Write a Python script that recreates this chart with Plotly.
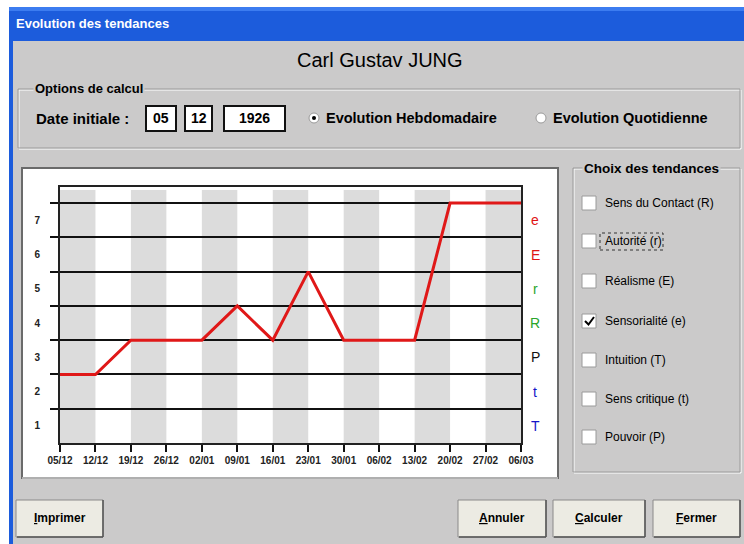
import plotly.graph_objects as go

# ---------------- data ----------------
DATES = ["05/12", "12/12", "19/12", "26/12", "02/01", "09/01", "16/01",
         "23/01", "30/01", "06/02", "13/02", "20/02", "27/02", "06/03"]
SENSORIALITE = [2.5, 2.5, 3.5, 3.5, 3.5, 4.5, 3.5, 5.5, 3.5, 3.5, 3.5, 7.5, 7.5, 7.5]
LEVEL_TICKS = [1, 2, 3, 4, 5, 6, 7]
LEVEL_LABELS = ["1", "2", "3", "4", "5", "6", "7"]
GRID_LEVELS = [1.5, 2.5, 3.5, 4.5, 5.5, 6.5, 7.5]
TREND_LETTERS = ["T", "t", "P", "R", "r", "E", "e"]
TREND_COLORS = ["#1414c8", "#1414c8", "#111111", "#2aa52a", "#2aa52a", "#e01414", "#e01414"]
CHOICES = ["Sens du Contact (R)", "Autorité (r)", "Réalisme (E)", "Sensorialité (e)",
           "Intuition (T)", "Sens critique (t)", "Pouvoir (P)"]
CHECKED = [False, False, False, True, False, False, False]
BUTTONS = ["Imprimer", "Annuler", "Calculer", "Fermer"]
DATE_FIELDS = ["05", "12", "1926"]

# ---------------- helpers ----------------
W, H = 744, 544
BG = "#cbcaca"
BOLDF = "Liberation Sans, Arial, sans-serif"
SANS = "Liberation Sans, Arial, sans-serif"


def X(p):
    return p / W


def Y(p):
    return 1 - p / H


shapes = []
annotations = []


def rect(x0, y0, x1, y1, fill="rgba(0,0,0,0)", line="rgba(0,0,0,0)", lw=0, dash="solid"):
    shapes.append(dict(type="rect", xref="paper", yref="paper",
                       x0=X(x0), x1=X(x1), y0=Y(y1), y1=Y(y0),
                       fillcolor=fill, line=dict(color=line, width=lw, dash=dash),
                       layer="below"))


def hline(x0, x1, y, color, lw=1):
    shapes.append(dict(type="line", xref="paper", yref="paper",
                       x0=X(x0), x1=X(x1), y0=Y(y), y1=Y(y),
                       line=dict(color=color, width=lw), layer="below"))


def vline(x, y0, y1, color, lw=1):
    shapes.append(dict(type="line", xref="paper", yref="paper",
                       x0=X(x), x1=X(x), y0=Y(y0), y1=Y(y1),
                       line=dict(color=color, width=lw), layer="below"))


def text(x, y, s, size=12, color="#000", family=BOLDF, weight="bold",
         xanchor="left", bgcolor=None):
    a = dict(xref="paper", yref="paper", x=X(x), y=Y(y), text=s, showarrow=False,
             xanchor=xanchor, yanchor="middle",
             font=dict(size=size, color=color, family=family, weight=weight))
    if bgcolor:
        a["bgcolor"] = bgcolor
    annotations.append(a)


def groupbox(x0, y0, x1, y1):
    rect(x0 + 1, y0 + 1, x1 + 1, y1 + 1, line="#ffffff", lw=1)
    rect(x0, y0, x1, y1, line="#9a9a9a", lw=1)


# ---------------- window chrome ----------------
rect(9, 7, 744, 544, fill="#1c5cdc")
rect(9, 7, 744, 11, fill="#3c7cf0")
rect(13, 41, 744, 544, fill=BG)
text(14, 24, "Evolution des tendances", size=13, color="#ffffff")

text(380, 60, "Carl Gustav JUNG", size=20, family=SANS, weight="normal", xanchor="center")

# options group
groupbox(18, 89, 740, 148)
text(33, 89, "Options de calcul", size=13, bgcolor=BG)
text(34, 118, "Date initiale :", size=15)
for (x0, x1), s in zip([(146, 176), (185, 212), (224, 285)], DATE_FIELDS):
    rect(x0, 106, x1, 131, fill="#ffffff", line="#111111", lw=2)
    text((x0 + x1) / 2, 118.5, s, size=14, xanchor="center")

for cx, label, sel in [(314, "Evolution Hebdomadaire", True), (541, "Evolution Quotidienne", False)]:
    shapes.append(dict(type="circle", xref="paper", yref="paper",
                       x0=X(cx - 5), x1=X(cx + 5), y0=Y(118 + 5), y1=Y(118 - 5),
                       fillcolor="#ffffff", line=dict(color="#9a9a9a", width=1), layer="below"))
    if sel:
        shapes.append(dict(type="circle", xref="paper", yref="paper",
                           x0=X(cx - 2), x1=X(cx + 2), y0=Y(118 + 2), y1=Y(118 - 2),
                           fillcolor="#000000", line=dict(width=0), layer="below"))
    text(cx + 10, 118, label, size=14.5)

# chart panel
rect(22, 168, 558, 478, fill="#ffffff", line="#6a6a6a", lw=2)
hline(22, 558, 478, "#f4f4f4", 1)

# choix group
groupbox(573, 168, 740, 472)
text(582, 168, "Choix des tendances", size=13.5, bgcolor=BG)
ROWS = [203, 241, 281, 321, 360, 399, 437]
for yy, label, chk in zip(ROWS, CHOICES, CHECKED):
    rect(582, yy - 7, 596, yy + 7, fill="#ffffff", line="#9a9a9a", lw=1)
    if chk:
        shapes.append(dict(type="path", xref="paper", yref="paper",
                           path=f"M {X(585)} {Y(yy)} L {X(588.5)} {Y(yy + 3.5)} L {X(594)} {Y(yy - 4)}",
                           line=dict(color="#000", width=2), layer="below"))
    text(603, yy, label, size=12, weight="normal")
rect(600, 233, 663, 250, line="#333333", lw=1, dash="dot")

# buttons
for (x0, x1), label in zip([(16, 103), (458, 546), (553, 645), (653, 740)], BUTTONS):
    rect(x0, 500, x1, 537, fill="#ecebe3", line="#8a8a8a", lw=1)
    hline(x0 + 1, x1, 537, "#555555", 1.5)
    vline(x1, 500, 537, "#555555", 1.5)
    text((x0 + x1) / 2, 518, "<u>" + label[0] + "</u>" + label[1:], size=12, xanchor="center")

# ---------------- chart ----------------
N = len(DATES)
xs = list(range(N))

# alternating grey week bands
for i in range(0, N - 1, 2):
    shapes.append(dict(type="rect", xref="x", yref="y", x0=xs[i], x1=xs[i + 1],
                       y0=0.5, y1=7.88, fillcolor="#dcdcdc", line=dict(width=0), layer="below"))

fig = go.Figure()
fig.add_trace(go.Scatter(x=xs, y=SENSORIALITE, mode="lines",
                         line=dict(color="#e01818", width=3), hoverinfo="skip", showlegend=False))

for lvl, letter, col in zip(LEVEL_TICKS, TREND_LETTERS, TREND_COLORS):
    annotations.append(dict(xref="paper", yref="y", x=X(535), y=lvl, text=letter,
                            showarrow=False, xanchor="center", yanchor="middle",
                            font=dict(size=14, color=col, family=SANS)))

fig.update_layout(
    width=W, height=H, margin=dict(l=0, r=0, t=0, b=0, pad=0, autoexpand=False),
    paper_bgcolor="#ffffff", plot_bgcolor="#ffffff",
    shapes=shapes, annotations=annotations, showlegend=False,
    xaxis=dict(domain=[X(60), X(521)], range=[0, N - 1], tickvals=xs, ticktext=DATES,
               ticks="outside", ticklen=7, tickwidth=1.5, tickcolor="#111",
               tickfont=dict(size=10, family=SANS, color="#222", weight="bold"),
               showgrid=False, zeroline=False, showline=True, mirror=True,
               linecolor="#222", linewidth=2, fixedrange=True),
    yaxis=dict(domain=[Y(443), Y(187)], range=[0.5, 7.97], tickvals=LEVEL_TICKS,
               ticktext=LEVEL_LABELS, ticks="", ticklabelstandoff=16,
               tickfont=dict(size=10, family=SANS, color="#222", weight="bold"),
               showgrid=False, zeroline=False, showline=True, mirror=True,
               linecolor="#222", linewidth=2, fixedrange=True,
               minor=dict(tickmode="array", tickvals=GRID_LEVELS, showgrid=True,
                          gridcolor="#111", gridwidth=1.5, ticks="outside",
                          ticklen=8, tickwidth=1.5, tickcolor="#111")),
)

fig.write_html("out.html", config={"displayModeBar": False},
               post_script="document.body.style.margin='0';document.body.style.overflow='hidden';")
